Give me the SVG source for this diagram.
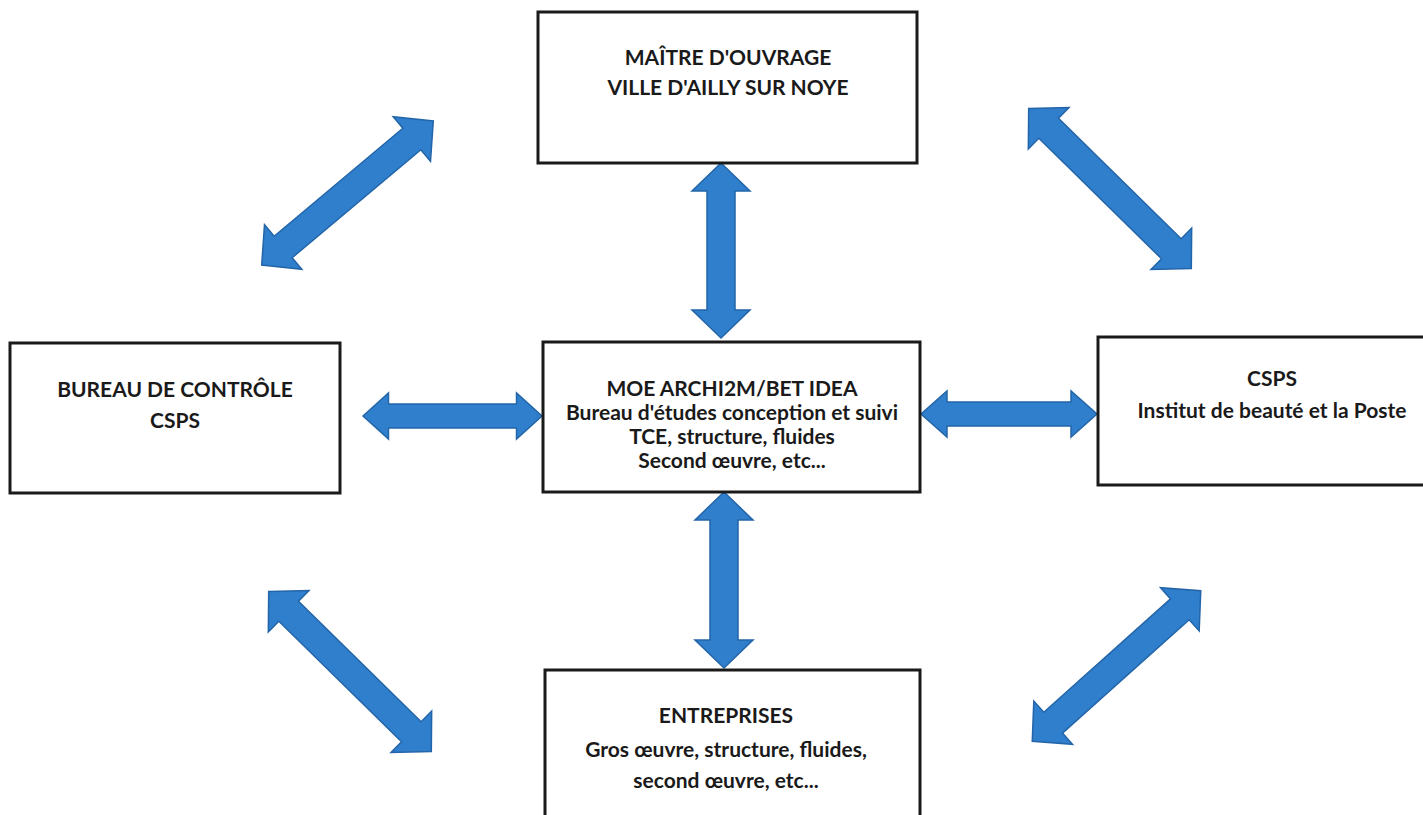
<svg xmlns="http://www.w3.org/2000/svg" width="1423" height="815" viewBox="0 0 1423 815">
<style>
.box{fill:#ffffff;stroke:#1a1a1a;stroke-width:3}
.t{font-family:Lato,"Liberation Sans",sans-serif;font-weight:bold;font-size:21px;fill:#1a1a1a;text-anchor:middle}
.arr{fill:#2F7FCD;stroke:#2365A8;stroke-width:1.5;stroke-linejoin:miter}
</style>
<rect width="1423" height="815" fill="#ffffff"/>
<g id="connectors">
<path class="arr" transform="translate(721,250.5) rotate(90)" d="M -87.5 0 L -59.5 -29 L -59.5 -14 L 59.5 -14 L 59.5 -29 L 87.5 0 L 59.5 29 L 59.5 14 L -59.5 14 L -59.5 29 Z"/>
<path class="arr" transform="translate(724,580) rotate(90)" d="M -88 0 L -60 -29 L -60 -14 L 60 -14 L 60 -29 L 88 0 L 60 29 L 60 14 L -60 14 L -60 29 Z"/>
<path class="arr" transform="translate(452.5,416)" d="M -89.5 0 L -64 -23 L -64 -12 L 64 -12 L 64 -23 L 89.5 0 L 64 23 L 64 12 L -64 12 L -64 23 Z"/>
<path class="arr" transform="translate(1009,414)" d="M -88 0 L -62 -23 L -62 -12 L 62 -12 L 62 -23 L 88 0 L 62 23 L 62 12 L -62 12 L -62 23 Z"/>
<path class="arr" transform="translate(347.5,193) rotate(-40)" d="M -112 0 L -84 -29 L -84 -14 L 84 -14 L 84 -29 L 112 0 L 84 29 L 84 14 L -84 14 L -84 29 Z"/>
<path class="arr" transform="translate(1110,188.5) rotate(44.5)" d="M -114 0 L -86 -29 L -86 -14 L 86 -14 L 86 -29 L 114 0 L 86 29 L 86 14 L -86 14 L -86 29 Z"/>
<path class="arr" transform="translate(350,671.5) rotate(44.5)" d="M -114 0 L -86 -29 L -86 -14 L 86 -14 L 86 -29 L 114 0 L 86 29 L 86 14 L -86 14 L -86 29 Z"/>
<path class="arr" transform="translate(1116.5,666) rotate(-41.8)" d="M -113 0 L -85 -29 L -85 -14 L 85 -14 L 85 -29 L 113 0 L 85 29 L 85 14 L -85 14 L -85 29 Z"/>
</g>
<g id="node-maitre-ouvrage">
<rect class="box" x="538" y="12" width="379" height="151"/>
<text class="t" x="728" y="65">MAÎTRE D'OUVRAGE</text>
<text class="t" x="728" y="95">VILLE D'AILLY SUR NOYE</text>
</g>
<g id="node-moe">
<rect class="box" x="543" y="342" width="377" height="150"/>
<text class="t" x="732" y="396">MOE ARCHI2M/BET IDEA</text>
<text class="t" x="732" y="420">Bureau d'études conception et suivi</text>
<text class="t" x="732" y="444">TCE, structure, fluides</text>
<text class="t" x="732" y="468">Second œuvre, etc...</text>
</g>
<g id="node-bureau-controle">
<rect class="box" x="10" y="343" width="330" height="150"/>
<text class="t" x="175" y="397">BUREAU DE CONTRÔLE</text>
<text class="t" x="175" y="428">CSPS</text>
</g>
<g id="node-csps">
<rect class="box" x="1098" y="337" width="340" height="148"/>
<text class="t" x="1272" y="386">CSPS</text>
<text class="t" x="1272" y="418">Institut de beauté et la Poste</text>
</g>
<g id="node-entreprises">
<rect class="box" x="545" y="670" width="375" height="160"/>
<text class="t" x="726" y="723">ENTREPRISES</text>
<text class="t" x="726" y="757">Gros œuvre, structure, fluides,</text>
<text class="t" x="726" y="788">second œuvre, etc...</text>
</g>
</svg>
